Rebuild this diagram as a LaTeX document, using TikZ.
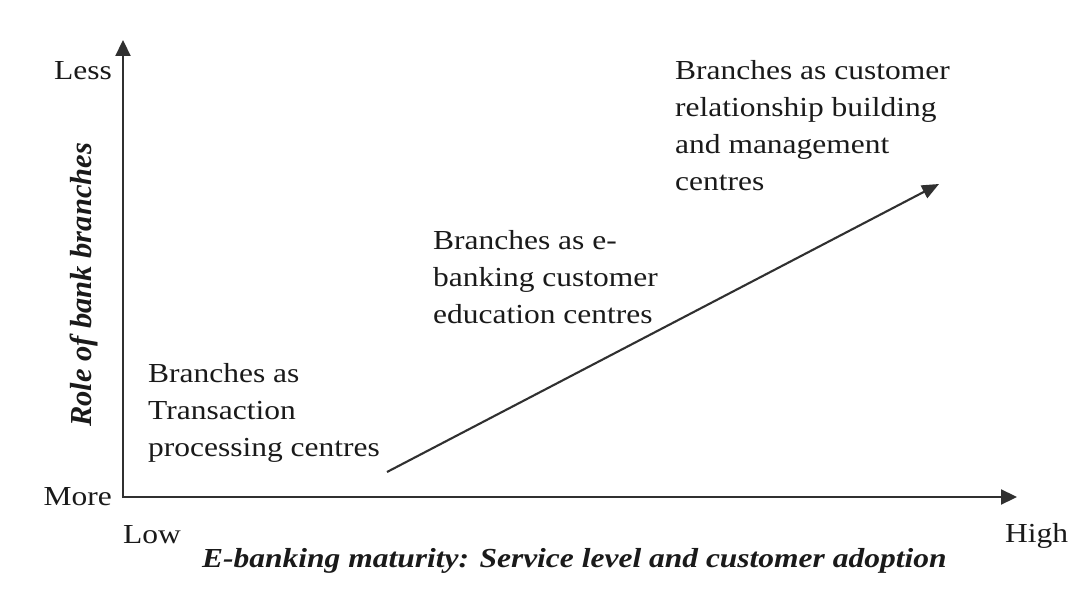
\documentclass[tikz,border=0pt]{standalone}
\usepackage{fontspec}
\setmainfont[FakeStretch=1.145]{Liberation Serif}
\newfontfamily\uprightlabel{Liberation Serif}
\usetikzlibrary{arrows.meta}

\definecolor{inkline}{HTML}{303030}
\definecolor{inktext}{HTML}{1A1A1A}

\tikzset{
  axis/.style={draw=inkline, line width=2.2pt,
    -{Triangle[length=16pt,width=15pt]}},
  trend/.style={draw=inkline, line width=2.1pt,
    -{Triangle[length=17pt,width=14pt]}},
  tick/.style={inner sep=0pt, text=inktext,
    font=\fontsize{27.5}{36.7}\selectfont},
  stage/.style={inner sep=0pt, text=inktext, anchor=base west,
    font=\fontsize{27.5}{36.7}\selectfont},
  axislabel/.style={inner sep=0pt, text=inktext,
    font=\fontsize{27.5}{36.7}\selectfont\bfseries\itshape},
}

\newcommand{\stagetext}[1]{\begin{tabular}[t]{@{}l@{}}#1\end{tabular}}

\begin{document}
\begin{tikzpicture}[x=1pt, y=1pt]
  \useasboundingbox[fill=white] (0,0) rectangle (1070,592);

  % axes
  \coordinate (origin) at (123,95);
  \coordinate (ytip) at (123,552);
  \coordinate (xtip) at (1017,95);
  \draw[axis] ([yshift=-1.1pt]origin) -- (ytip);
  \draw[axis] ([xshift=-1.1pt]origin) -- (xtip);

  % axis end labels
  \node[tick, anchor=base east] (less) at (112,512) {Less};
  \node[tick, anchor=base east] (more) at (112,87) {More};
  \node[tick, anchor=base west] (low) at (123,49) {Low};
  \node[tick, anchor=base west] (high) at (1005,50) {High};

  % axis titles
  \node[axislabel, anchor=base west] (xlabel) at (202,25)
    {E-banking maturity: Service level and customer adoption};
  \node[axislabel, anchor=base, rotate=90] (ylabel) at (91,307)
    {\fontsize{30.5}{36}\selectfont\uprightlabel Role of bank branches};

  % stages of branch roles
  \node[stage] (transaction) at (148,209)
    {\stagetext{Branches as\\ Transaction\\ processing centres}};
  \node[stage] (education) at (433,342)
    {\stagetext{Branches as e-\\ banking customer\\ education centres}};
  \node[stage] (relationship) at (675,512)
    {\stagetext{Branches as customer\\ relationship building\\ and management\\ centres}};

  % trend arrow
  \coordinate (trendstart) at (387,120);
  \coordinate (trendend) at (939,408);
  \draw[trend] (trendstart) -- (trendend);
\end{tikzpicture}
\end{document}
